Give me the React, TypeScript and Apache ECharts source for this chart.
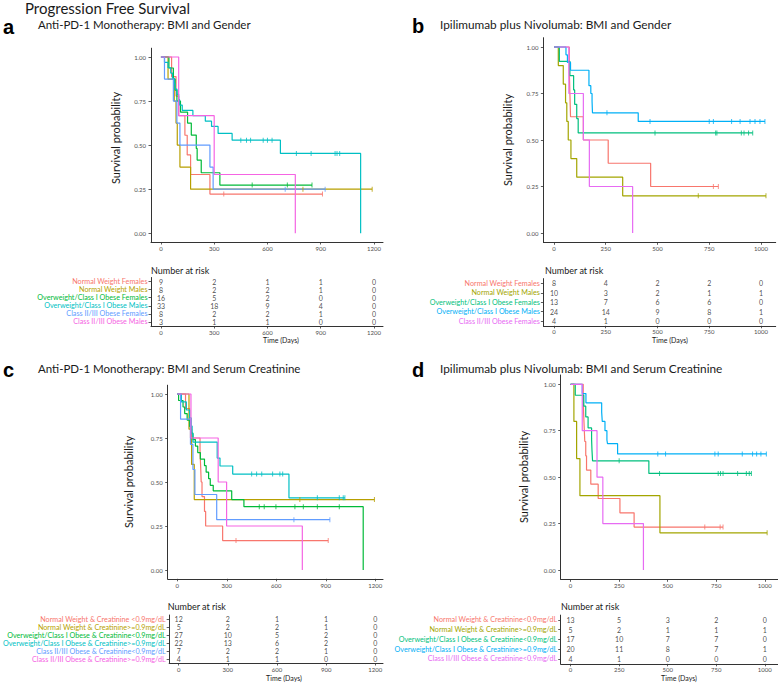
import React, { useEffect, useRef } from "react";
import * as echarts from "echarts";

const FONT = "Lato, 'DejaVu Sans', sans-serif";
const LETTER_FONT = "'Liberation Sans', Arial, sans-serif";

// ---------- Panel a: Anti-PD-1 Monotherapy, BMI and Gender ----------
const A_LABELS = [
  "Normal Weight Females",
  "Normal Weight Males",
  "Overweight/Class I Obese Females",
  "Overweight/Class I Obese Males",
  "Class II/III Obese Females",
  "Class II/III Obese Males",
];
const A_COLORS = ["#F8766D", "#B79F00", "#00BA38", "#00BFC4", "#619CFF", "#F564E3"];
const A_TICKS = [0, 300, 600, 900, 1200];

const A1_T = [0, 60, 85, 100, 135, 148, 167, 276, 910];
const A1_S = [1, 0.889, 0.778, 0.667, 0.556, 0.444, 0.333, 0.222, 0.222];
const A1_C = [354, 910];
const A2_T = [0, 40, 75, 85, 92, 107, 167, 1190];
const A2_S = [1, 0.875, 0.75, 0.625, 0.5, 0.375, 0.25, 0.25];
const A2_C = [800, 1190];
const A3_T = [0, 45, 70, 80, 90, 110, 150, 171, 199, 204, 227, 332, 851];
const A3_S = [1, 0.9375, 0.875, 0.8125, 0.75, 0.6875, 0.625, 0.557, 0.481, 0.415, 0.343, 0.273, 0.273];
const A3_C = [514, 712, 851];
const A4_T = [0, 20, 40, 55, 65, 75, 80, 90, 100, 105, 120, 180, 250, 285, 322, 401, 673, 1125];
const A4_S = [1, 0.97, 0.939, 0.909, 0.879, 0.848, 0.818, 0.788, 0.758, 0.727, 0.697, 0.667, 0.636, 0.606, 0.566, 0.528, 0.453, 0];
const A4_C = [450, 482, 505, 576, 600, 626, 763, 846, 981, 992, 1007];
const A5_T = [0, 20, 70, 90, 107, 276, 294, 925];
const A5_S = [1, 0.875, 0.75, 0.625, 0.5, 0.375, 0.25, 0.25];
const A5_C = [700, 925];
const A6_T = [0, 100, 300, 757];
const A6_S = [1, 0.667, 0.333, 0];
const A6_C: number[] = [];

const A_RISK1 = [9, 2, 1, 1, 0];
const A_RISK2 = [8, 2, 2, 1, 0];
const A_RISK3 = [16, 5, 2, 0, 0];
const A_RISK4 = [33, 18, 9, 4, 0];
const A_RISK5 = [8, 2, 2, 1, 0];
const A_RISK6 = [3, 1, 1, 0, 0];

// ---------- Panel b: Ipilimumab plus Nivolumab, BMI and Gender ----------
const B_LABELS = [
  "Normal Weight Females",
  "Normal Weight Males",
  "Overweight/Class I Obese Females",
  "Overweight/Class I Obese Males",
  "Class II/III Obese Females",
];
const B_COLORS = ["#F8766D", "#A3A500", "#00BF7D", "#00B0F6", "#E76BF3"];
const B_TICKS = [0, 250, 500, 750, 1000];

const B1_T = [0, 74, 77, 80, 142, 262, 467, 794];
const B1_S = [1, 0.875, 0.75, 0.625, 0.5, 0.375, 0.25, 0.25];
const B1_C = [770, 794];
const B2_T = [0, 21, 45, 56, 62, 69, 82, 110, 332, 1024];
const B2_S = [1, 0.9, 0.8, 0.7, 0.6, 0.5, 0.4, 0.3, 0.2, 0.2];
const B2_C = [697, 1024];
const B3_T = [0, 26, 77, 95, 100, 110, 117, 960];
const B3_S = [1, 0.923, 0.846, 0.769, 0.692, 0.615, 0.538, 0.538];
const B3_C = [488, 781, 787, 905, 918, 940, 960];
const B4_T = [0, 58, 65, 80, 169, 178, 184, 186, 407, 1019];
const B4_S = [1, 0.958, 0.917, 0.875, 0.792, 0.75, 0.708, 0.646, 0.6, 0.6];
const B4_C = [256, 464, 750, 770, 858, 899, 947, 971, 995, 1019];
const B5_T = [0, 72, 142, 171, 380];
const B5_S = [1, 0.75, 0.5, 0.25, 0];
const B5_C: number[] = [];

const B_RISK1 = [8, 4, 2, 2, 0];
const B_RISK2 = [10, 3, 2, 1, 1];
const B_RISK3 = [13, 7, 6, 6, 0];
const B_RISK4 = [24, 14, 9, 8, 1];
const B_RISK5 = [4, 1, 0, 0, 0];

// ---------- Panel c: Anti-PD-1 Monotherapy, BMI and Serum Creatinine ----------
const C_LABELS = [
  "Normal Weight & Creatinine <0.9mg/dL",
  "Normal Weight & Creatinine>=0.9mg/dL",
  "Overweight/Class I Obese & Creatinine<0.9mg/dL",
  "Overweight/Class I Obese & Creatinine>=0.9mg/dL",
  "Class II/III Obese & Creatinine<0.9mg/dL",
  "Class II/III Obese & Creatinine>=0.9mg/dL",
];
const C_COLORS = A_COLORS;
const C_TICKS = A_TICKS;

const C1_T = [0, 50, 75, 80, 138, 142, 145, 150, 165, 172, 275, 915];
const C1_S = [1, 0.917, 0.833, 0.75, 0.667, 0.583, 0.5, 0.417, 0.333, 0.25, 0.167, 0.167];
const C1_C = [356, 915];
const C2_T = [0, 71, 87, 103, 1195];
const C2_S = [1, 0.8, 0.6, 0.4, 0.4];
const C2_C = [743, 1195];
const C3_T = [0, 8, 35, 45, 60, 75, 85, 95, 110, 124, 140, 165, 175, 190, 200, 218, 330, 404, 1127];
const C3_S = [1, 0.963, 0.926, 0.889, 0.852, 0.815, 0.778, 0.741, 0.704, 0.667, 0.63, 0.593, 0.556, 0.519, 0.481, 0.45, 0.4, 0.36, 0];
const C3_C = [497, 527, 598, 713, 764, 849, 982];
const C4_T = [0, 25, 55, 75, 85, 90, 95, 242, 259, 336, 677, 1016];
const C4_S = [1, 0.955, 0.909, 0.864, 0.818, 0.773, 0.727, 0.636, 0.591, 0.545, 0.41, 0.41];
const C4_C = [451, 481, 512, 578, 622, 639, 849, 982, 1006, 1016];
const C5_T = [0, 20, 80, 95, 107, 239, 925];
const C5_S = [1, 0.857, 0.714, 0.571, 0.429, 0.286, 0.286];
const C5_C = [707, 925];
const C6_T = [0, 83, 248, 299, 758];
const C6_S = [1, 0.75, 0.5, 0.25, 0];
const C6_C: number[] = [];

const C_RISK1 = [12, 2, 1, 1, 0];
const C_RISK2 = [5, 2, 2, 1, 0];
const C_RISK3 = [27, 10, 5, 2, 0];
const C_RISK4 = [22, 13, 6, 2, 0];
const C_RISK5 = [7, 2, 2, 1, 0];
const C_RISK6 = [4, 1, 1, 0, 0];

// ---------- Panel d: Ipilimumab plus Nivolumab, BMI and Serum Creatinine ----------
const D_LABELS = [
  "Normal Weight & Creatinine<0.9mg/dL",
  "Normal Weight & Creatinine>=0.9mg/dL",
  "Overweight/Class I Obese & Creatinine<0.9mg/dL",
  "Overweight/Class I Obese & Creatinine>=0.9mg/dL",
  "Class II/III Obese & Creatinine<0.9mg/dL",
];
const D_COLORS = B_COLORS;
const D_TICKS = B_TICKS;

const D1_T = [0, 65, 67, 70, 73, 78, 82, 104, 142, 254, 327, 785];
const D1_S = [1, 0.923, 0.846, 0.769, 0.692, 0.615, 0.538, 0.462, 0.385, 0.308, 0.231, 0.231];
const D1_C = [691, 770, 785];
const D2_T = [0, 17, 31, 48, 460, 1012];
const D2_S = [1, 0.8, 0.6, 0.4, 0.2, 0.2];
const D2_C = [1012];
const D3_T = [0, 24, 68, 78, 90, 108, 110, 113, 403, 931];
const D3_S = [1, 0.941, 0.882, 0.824, 0.765, 0.706, 0.647, 0.588, 0.52, 0.52];
const D3_C = [250, 458, 760, 772, 785, 860, 905, 920, 931];
const D4_T = [0, 60, 79, 160, 163, 177, 187, 190, 242, 1008];
const D4_S = [1, 0.95, 0.9, 0.85, 0.8, 0.75, 0.7, 0.68, 0.625, 0.625];
const D4_C = [449, 489, 743, 760, 884, 937, 958, 980, 1008];
const D5_T = [0, 60, 136, 166, 375];
const D5_S = [1, 0.75, 0.5, 0.25, 0];
const D5_C: number[] = [];

const D_RISK1 = [13, 5, 3, 2, 0];
const D_RISK2 = [5, 2, 1, 1, 1];
const D_RISK3 = [17, 10, 7, 7, 0];
const D_RISK4 = [20, 11, 8, 7, 1];
const D_RISK5 = [4, 1, 0, 0, 0];

const Y_TICKS = [0, 0.25, 0.5, 0.75, 1];

type Curve = { t: number[]; s: number[]; c: number[] };

const PANELS = [
  {
    labels: A_LABELS,
    colors: A_COLORS,
    ticks: A_TICKS,
    curves: [
      { t: A1_T, s: A1_S, c: A1_C },
      { t: A2_T, s: A2_S, c: A2_C },
      { t: A3_T, s: A3_S, c: A3_C },
      { t: A4_T, s: A4_S, c: A4_C },
      { t: A5_T, s: A5_S, c: A5_C },
      { t: A6_T, s: A6_S, c: A6_C },
    ] as Curve[],
    risk: [A_RISK1, A_RISK2, A_RISK3, A_RISK4, A_RISK5, A_RISK6],
    xmin: -56,
    xmax: 1251,
    plot: { left: 151, top: 48.2, width: 232, height: 193.8 },
    table: { left: 151, top: 277.5, width: 232, height: 48.5 },
  },
  {
    labels: B_LABELS,
    colors: B_COLORS,
    ticks: B_TICKS,
    curves: [
      { t: B1_T, s: B1_S, c: B1_C },
      { t: B2_T, s: B2_S, c: B2_C },
      { t: B3_T, s: B3_S, c: B3_C },
      { t: B4_T, s: B4_S, c: B4_C },
      { t: B5_T, s: B5_S, c: B5_C },
    ] as Curve[],
    risk: [B_RISK1, B_RISK2, B_RISK3, B_RISK4, B_RISK5],
    xmin: -51,
    xmax: 1071,
    plot: { left: 543.4, top: 37.7, width: 232.3, height: 204.6 },
    table: { left: 543.4, top: 278.6, width: 232.3, height: 47.2 },
  },
  {
    labels: C_LABELS,
    colors: C_COLORS,
    ticks: C_TICKS,
    curves: [
      { t: C1_T, s: C1_S, c: C1_C },
      { t: C2_T, s: C2_S, c: C2_C },
      { t: C3_T, s: C3_S, c: C3_C },
      { t: C4_T, s: C4_S, c: C4_C },
      { t: C5_T, s: C5_S, c: C5_C },
      { t: C6_T, s: C6_S, c: C6_C },
    ] as Curve[],
    risk: [C_RISK1, C_RISK2, C_RISK3, C_RISK4, C_RISK5, C_RISK6],
    xmin: -58,
    xmax: 1247,
    plot: { left: 167.7, top: 385.2, width: 215.3, height: 193.6 },
    table: { left: 167.7, top: 615, width: 215.3, height: 48 },
  },
  {
    labels: D_LABELS,
    colors: D_COLORS,
    ticks: D_TICKS,
    curves: [
      { t: D1_T, s: D1_S, c: D1_C },
      { t: D2_T, s: D2_S, c: D2_C },
      { t: D3_T, s: D3_S, c: D3_C },
      { t: D4_T, s: D4_S, c: D4_C },
      { t: D5_T, s: D5_S, c: D5_C },
    ] as Curve[],
    risk: [D_RISK1, D_RISK2, D_RISK3, D_RISK4, D_RISK5],
    xmin: -51,
    xmax: 1068,
    plot: { left: 560.7, top: 375, width: 217.5, height: 204.3 },
    table: { left: 560.7, top: 615.1, width: 217.5, height: 48.75 },
  },
];

function survAt(t: number, times: number[], surv: number[]) {
  let v = surv[0];
  for (let i = 0; i < times.length; i++) if (times[i] <= t) v = surv[i];
  return v;
}

const AXIS_COLOR = "#333";
const TICK_LABEL_COLOR = "#4d4d4d";

function txt(text: string, x: number, y: number, size: number, o: any = {}) {
  return {
    type: "text",
    x,
    y,
    rotation: o.rot || 0,
    silent: true,
    style: {
      text,
      fill: o.color || "#1a1a1a",
      font: `${o.weight || "normal"} ${size}px ${o.family || FONT}`,
      textAlign: o.align || "left",
      align: o.align || "left",
      textVerticalAlign: "middle",
      verticalAlign: "middle",
    },
  };
}

const axisLine = { show: true, onZero: false, lineStyle: { color: AXIS_COLOR, width: 1 } };

function buildOption() {
  const grid: any[] = [];
  const xAxis: any[] = [];
  const yAxis: any[] = [];
  const series: any[] = [];

  PANELS.forEach((p, pi) => {
    grid.push({ ...p.plot, containLabel: false });
    xAxis.push({
      type: "value",
      gridIndex: pi,
      min: p.xmin,
      max: p.xmax,
      axisLine,
      axisTick: { show: true, length: 2.5, customValues: p.ticks, lineStyle: { color: AXIS_COLOR, width: 0.8 } },
      axisLabel: {
        customValues: p.ticks,
        fontSize: 6,
        color: TICK_LABEL_COLOR,
        margin: 3.5,
        fontFamily: FONT,
        formatter: (v: number) => String(v),
      },
      splitLine: { show: false },
    });
    yAxis.push({
      type: "value",
      gridIndex: pi,
      min: -0.05,
      max: 1.05,
      axisLine,
      axisTick: { show: true, length: 2.5, customValues: Y_TICKS, lineStyle: { color: AXIS_COLOR, width: 0.8 } },
      axisLabel: {
        customValues: Y_TICKS,
        fontSize: 6,
        color: TICK_LABEL_COLOR,
        margin: 5,
        fontFamily: FONT,
        formatter: (v: number) => v.toFixed(2),
      },
      splitLine: { show: false },
    });
    p.curves.forEach((c, ci) => {
      series.push({
        type: "line",
        xAxisIndex: pi,
        yAxisIndex: pi,
        step: "end",
        symbol: "none",
        silent: true,
        data: c.t.map((t, i) => [t, c.s[i]]),
        lineStyle: { color: p.colors[ci], width: 1.2 },
        z: 3,
      });
      if (c.c.length) {
        series.push({
          type: "scatter",
          xAxisIndex: pi,
          yAxisIndex: pi,
          symbol: "rect",
          symbolSize: [1, 5],
          silent: true,
          data: c.c.map((t) => [t, survAt(t, c.t, c.s)]),
          itemStyle: { color: p.colors[ci] },
          z: 4,
        });
      }
    });
  });

  PANELS.forEach((p, pi) => {
    const gi = 4 + pi;
    grid.push({ ...p.table, containLabel: false });
    xAxis.push({
      type: "value",
      gridIndex: gi,
      min: p.xmin,
      max: p.xmax,
      axisLine,
      axisTick: { show: true, length: 2.5, customValues: p.ticks, lineStyle: { color: AXIS_COLOR, width: 0.8 } },
      axisLabel: {
        customValues: p.ticks,
        fontSize: 6,
        color: TICK_LABEL_COLOR,
        margin: 3,
        fontFamily: FONT,
        formatter: (v: number) => String(v),
      },
      splitLine: { show: false },
    });
    yAxis.push({
      type: "category",
      gridIndex: gi,
      inverse: true,
      data: p.labels,
      axisLine,
      axisTick: { show: true, length: 2.5, alignWithLabel: true, lineStyle: { color: AXIS_COLOR, width: 0.8 } },
      axisLabel: {
        fontSize: 7.2,
        margin: 3.5,
        fontFamily: FONT,
        interval: 0,
        color: (_v: any, idx: number) => p.colors[idx],
      },
      splitLine: { show: false },
    });
    const pts: any[] = [];
    p.risk.forEach((row, ri) => {
      row.forEach((n, j) => pts.push([p.ticks[j], ri, n]));
    });
    series.push({
      type: "scatter",
      xAxisIndex: gi,
      yAxisIndex: gi,
      symbolSize: 1,
      silent: true,
      data: pts,
      itemStyle: { color: "transparent" },
      label: {
        show: true,
        position: "inside",
        formatter: (prm: any) => String(prm.value[2]),
        fontSize: 7,
        color: "#1a1a1a",
        fontFamily: FONT,
      },
    });
  });

  const graphic: any[] = [
    txt("Progression Free Survival", 25, 8, 15),
    txt("a", 3, 27, 20, { weight: "bold", family: LETTER_FONT, color: "#000" }),
    txt("Anti-PD-1 Monotherapy: BMI and Gender", 38, 24.5, 11.5),
    txt("b", 412, 26, 20, { weight: "bold", family: LETTER_FONT, color: "#000" }),
    txt("Ipilimumab plus Nivolumab: BMI and Gender", 440, 24.5, 11.8),
    txt("c", 3, 370, 20, { weight: "bold", family: LETTER_FONT, color: "#000" }),
    txt("Anti-PD-1 Monotherapy: BMI and Serum Creatinine", 38, 368, 11.5),
    txt("d", 412, 370, 20, { weight: "bold", family: LETTER_FONT, color: "#000" }),
    txt("Ipilimumab plus Nivolumab: BMI and Serum Creatinine", 440, 368, 11.8),
    txt("Survival probability", 115, 138, 11, { rot: Math.PI / 2, align: "center" }),
    txt("Survival probability", 507, 140, 11, { rot: Math.PI / 2, align: "center" }),
    txt("Survival probability", 128, 482, 11, { rot: Math.PI / 2, align: "center" }),
    txt("Survival probability", 523, 477, 11, { rot: Math.PI / 2, align: "center" }),
    txt("Number at risk", 151, 270, 9),
    txt("Number at risk", 545, 270, 9),
    txt("Number at risk", 167.7, 606.7, 9),
    txt("Number at risk", 561, 606.7, 9),
    txt("Time (Days)", 281, 340, 7, { align: "center" }),
    txt("Time (Days)", 670, 340, 7, { align: "center" }),
    txt("Time (Days)", 284, 678, 7, { align: "center" }),
    txt("Time (Days)", 679, 678, 7, { align: "center" }),
  ];

  return {
    animation: false,
    backgroundColor: "#ffffff",
    textStyle: { fontFamily: FONT },
    grid,
    xAxis,
    yAxis,
    series,
    graphic,
  };
}

export default function App() {
  const ref = useRef<HTMLDivElement>(null);
  useEffect(() => {
    if (!ref.current) return;
    const chart = echarts.init(ref.current, undefined, { renderer: "svg" });
    chart.setOption(buildOption() as any);
    return () => chart.dispose();
  }, []);
  return (
    <div
      ref={ref}
      style={{ position: "absolute", left: 0, top: 0, width: 778, height: 683, background: "#fff" }}
    />
  );
}
